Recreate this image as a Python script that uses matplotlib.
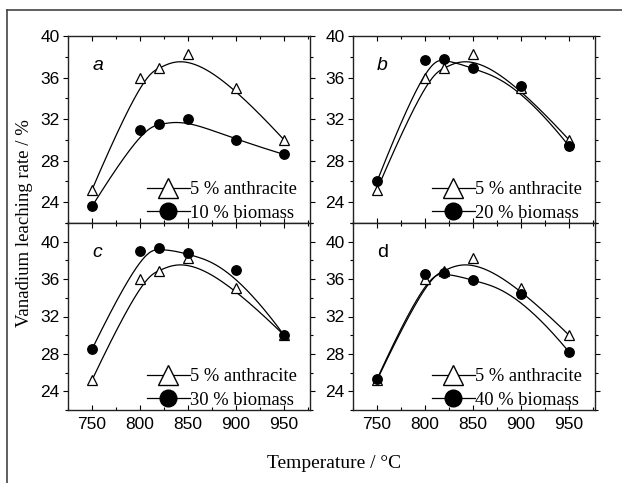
import numpy as np
import matplotlib
matplotlib.use("Agg")
import matplotlib.pyplot as plt
from matplotlib.lines import Line2D
from matplotlib.ticker import MultipleLocator

temps = [750, 800, 820, 850, 900, 950]
anthracite = [25.2, 36.0, 36.9, 38.3, 35.0, 30.0]
biomass_10 = [23.6, 31.0, 31.5, 32.0, 30.0, 28.6]
biomass_20 = [26.0, 37.7, 37.8, 36.9, 35.2, 29.4]
biomass_30 = [28.5, 39.0, 39.3, 38.8, 37.0, 30.0]
biomass_40 = [25.3, 36.5, 36.7, 35.9, 34.4, 28.2]
panel_labels = ["a", "b", "c", "d"]
biomass_labels = ["10 % biomass", "20 % biomass", "30 % biomass", "40 % biomass"]
biomass_series = [biomass_10, biomass_20, biomass_30, biomass_40]
xticks = [750, 800, 850, 900, 950]
yticks = [24, 28, 32, 36, 40]


def bspline(xs, ys, n=300, k=3):
    P = np.column_stack([xs, ys]).astype(float)
    m = len(P)
    knots = np.concatenate([np.zeros(k), np.linspace(0, 1, m - k + 1), np.ones(k)])
    t = np.linspace(0, 1, n)
    t[-1] = 1 - 1e-12

    def basis(i, p, t):
        if p == 0:
            return np.where((knots[i] <= t) & (t < knots[i + 1]), 1.0, 0.0)
        a = 0.0
        d1 = knots[i + p] - knots[i]
        if d1 > 0:
            a = (t - knots[i]) / d1 * basis(i, p - 1, t)
        b = 0.0
        d2 = knots[i + p + 1] - knots[i + 1]
        if d2 > 0:
            b = (knots[i + p + 1] - t) / d2 * basis(i + 1, p - 1, t)
        return a + b

    B = np.array([basis(i, k, t) for i in range(m)])
    C = B.T @ P
    return C[:, 0], C[:, 1]


serif = "Liberation Serif"
sans = "Liberation Sans"
plt.rcParams['font.family'] = sans

fig = plt.figure(figsize=(6.22, 4.83), dpi=100)
W, H = 622, 483
positions = [(68, 36, 310, 223), (353, 36, 595, 223), (68, 223, 310, 410), (353, 223, 595, 410)]
ylims = [(22, 40), (22, 40), (22, 42), (22, 42)]

# outer frame (left and top lines)
fig.add_artist(Line2D([7 / W, 7 / W], [1 - 10 / H, 0], color="#444444", lw=1.2, transform=fig.transFigure))
fig.add_artist(Line2D([7 / W, 1], [1 - 10 / H, 1 - 10 / H], color="#444444", lw=1.2, transform=fig.transFigure))

for idx in range(4):
    x0, y0, x1, y1 = positions[idx]
    ax = fig.add_axes([x0 / W, 1 - y1 / H, (x1 - x0) / W, (y1 - y0) / H])
    ax.set_xlim(725, 977)
    ax.set_ylim(*ylims[idx])
    bio = biomass_series[idx]
    sx, sy = bspline(temps, anthracite)
    ax.plot(sx, sy, color="black", lw=0.9)
    bx, by = bspline(temps, bio)
    ax.plot(bx, by, color="black", lw=0.9)
    ax.plot(temps, anthracite, linestyle="none", marker="^", markersize=7,
            markerfacecolor="white", markeredgecolor="black", markeredgewidth=0.9, zorder=3)
    ax.plot(temps, bio, linestyle="none", marker="o", markersize=6.8,
            markerfacecolor="black", markeredgecolor="black", zorder=4)
    ax.set_xticks(xticks)
    ax.set_yticks(yticks)
    ax.xaxis.set_minor_locator(MultipleLocator(25))
    ax.yaxis.set_minor_locator(MultipleLocator(2))
    ax.tick_params(axis="x", which="both", direction="in", top=True, bottom=True)
    ax.tick_params(axis="y", which="both", direction="out", left=True, right=True)
    ax.tick_params(which="major", length=3.5, width=0.8, labelsize=12.5, pad=2.5)
    ax.tick_params(which="minor", length=2.2, width=0.8)
    ax.tick_params(axis="x", pad=5)
    if idx < 2:
        ax.tick_params(axis="x", labelbottom=False)
    for s in ax.spines.values():
        s.set_linewidth(1.0)
        s.set_color("#222222")
    style = "italic" if idx < 3 else "normal"
    ax.text(0.1, 0.82, panel_labels[idx], transform=ax.transAxes, fontsize=14,
            fontstyle=style, family=sans)
    handles = [
        Line2D([], [], color="black", lw=0.9, marker="^", markersize=14,
               markerfacecolor="white", markeredgecolor="black", markeredgewidth=1.0),
        Line2D([], [], color="black", lw=0.9, marker="o", markersize=12,
               markerfacecolor="black", markeredgecolor="black"),
    ]
    ax.legend(handles, ["5 % anthracite", biomass_labels[idx]], loc="lower right",
              bbox_to_anchor=(0.975, -0.032),
              frameon=False, prop={"family": serif, "size": 13.3}, handlelength=2.3,
              handletextpad=0.0, labelspacing=0.35, borderpad=0.1, borderaxespad=0.3)

fig.text(25 / W, 1 - 223 / H, "Vanadium leaching rate / %", rotation=90, ha="center",
         va="center", family=serif, fontsize=13.5)
fig.text(334 / W, 1 - 464 / H, "Temperature / °C", ha="center", va="center",
         family=serif, fontsize=14)

fig.savefig("out.png", dpi=100)
